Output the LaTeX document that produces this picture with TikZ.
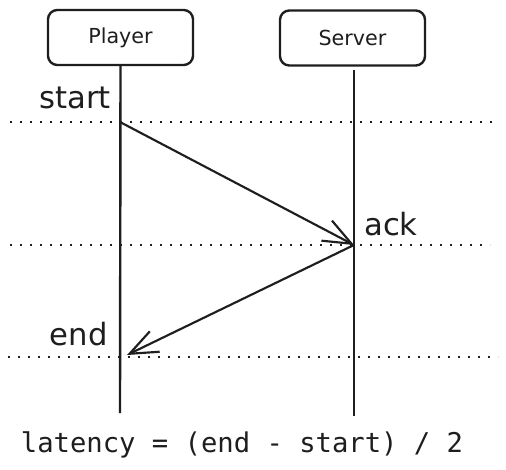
\documentclass[tikz,border=0pt]{standalone}
\usepackage{fontspec}
\setmonofont{DejaVu Sans Mono}
\newfontfamily\handfont{DejaVu Sans}
\usetikzlibrary{arrows.meta}
\definecolor{ink}{HTML}{1E1E1E}

\begin{document}
\begin{tikzpicture}[x=0.75pt,y=0.75pt,yscale=-1,xscale=1,color=ink,
    actorbox/.style={draw,line width=1.8,rounded corners=7,minimum width=108.75pt,minimum height=41.25pt,inner sep=0pt,font=\handfont\fontsize{15.5}{18}\selectfont},
    lifeline/.style={line width=1.8},
    timeline/.style={line width=1.6,dash pattern=on 1.6pt off 5.9pt},
    msg/.style={line width=1.6,-{Straight Barb[length=21pt,width=17pt,line width=1.6pt]}},
    marklabel/.style={inner sep=0pt,font=\handfont\fontsize{23}{27}\selectfont}]
    %set diagram left start at 0, and has height of 470
    \path [fill=white] (0,0) rectangle (506,470);

    %Shape: Rectangle [id:player]
    \node [actorbox] (player) at (120.5,37.5) {Player};
    %Shape: Rectangle [id:server]
    \node [actorbox] (server) at (352.5,38) {Server};

    %Coordinates
    \coordinate (plyend) at (120,413);
    \coordinate (srvtop) at (354,70);
    \coordinate (srvend) at (354,416);
    \coordinate (tstart) at (120,122);
    \coordinate (tack) at (354,245);
    \coordinate (tend) at (127,355);
    \coordinate (startL) at (10,122);
    \coordinate (startR) at (498,122);
    \coordinate (ackL) at (10,245);
    \coordinate (ackR) at (490,245);
    \coordinate (endL) at (8,357);
    \coordinate (endR) at (498,357);

    %Straight Lines [id:lifelines]
    \draw [lifeline] (player.south) -- (plyend) ;
    \draw [lifeline] (srvtop) -- (srvend) ;
    %Straight Lines [id:timelines]
    \draw [timeline] (startL) -- (startR) ;
    \draw [timeline] (ackL) -- (ackR) ;
    \draw [timeline] (endL) -- (endR) ;
    %Straight Lines [id:messages]
    \draw [msg] (tstart) -- (tack) ;
    \draw [msg] (tack) -- (tend) ;

    % Text Node
    \node [marklabel,anchor=base east] (startlbl) at (111,109) {start};
    % Text Node
    \node [marklabel,anchor=base west] (acklbl) at (364,235) {ack};
    % Text Node
    \node [marklabel,anchor=base east] (endlbl) at (108,345) {end};
    % Text Node
    \node [inner sep=0pt,anchor=base,font=\ttfamily\fontsize{20.4}{24}\selectfont] (formula) at (242,452) {latency = (end - start) / 2};
\end{tikzpicture}
\end{document}
